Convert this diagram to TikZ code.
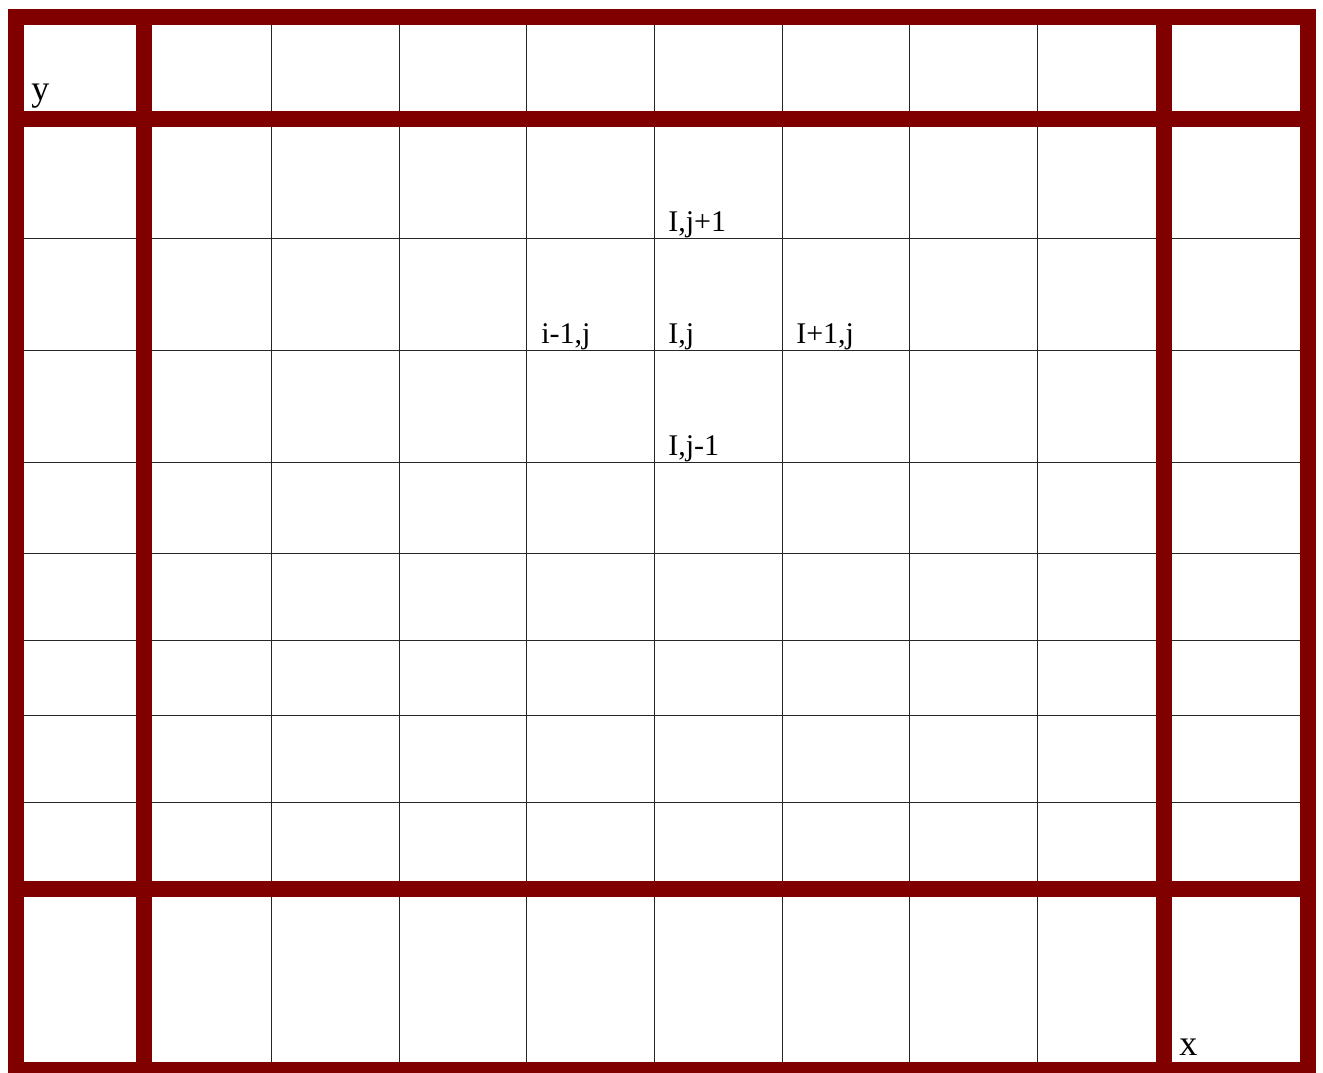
\documentclass[tikz,border=0pt]{standalone}
\usepackage{fontspec}
\setmainfont{Liberation Serif}
\usepackage{xcolor}
\usepackage{tikz}
\definecolor{wallred}{HTML}{800000}

\begin{document}
\begin{tikzpicture}[
  x=0.75pt, y=-0.75pt,
  thin grid/.style={draw=black!85, line width=0.65pt},
  wall/.style={draw=wallred, line width=12pt, line cap=rect},
  cell/.style={anchor=base west, inner sep=0pt, font=\fontsize{22.5}{26}\selectfont},
  axis/.style={anchor=base west, inner sep=0pt, font=\fontsize{27}{30}\selectfont}
]
\useasboundingbox (0,0) rectangle (1323,1072);

% interior grid
\foreach \gx in {271,399,526,654,782,909,1037}
  \draw[thin grid] (\gx,17) -- (\gx,1070);
\foreach \gy in {238,350,462,553,640,715,802}
  \draw[thin grid] (15.5,\gy) -- (1308,\gy);

% boundary cells
\draw[wall] (15.5,17) rectangle (1308,1070);
\draw[wall] (143.5,17) -- (143.5,1070);
\draw[wall] (1164,17) -- (1164,1070);
\draw[wall] (15.5,119) -- (1308,119);
\draw[wall] (15.5,889) -- (1308,889);

% stencil labels
\node[cell] (up) at (668,231) {I,j+1};
\node[cell] (left) at (541,343) {i-1,j};
\node[cell] (centre) at (668,343) {I,j};
\node[cell] (right) at (796,343) {I+1,j};
\node[cell] (down) at (668,455) {I,j-1};

\node[axis] (ylab) at (31,100) {y};
\node[axis] (xlab) at (1179,1055) {x};

\end{tikzpicture}
\end{document}
